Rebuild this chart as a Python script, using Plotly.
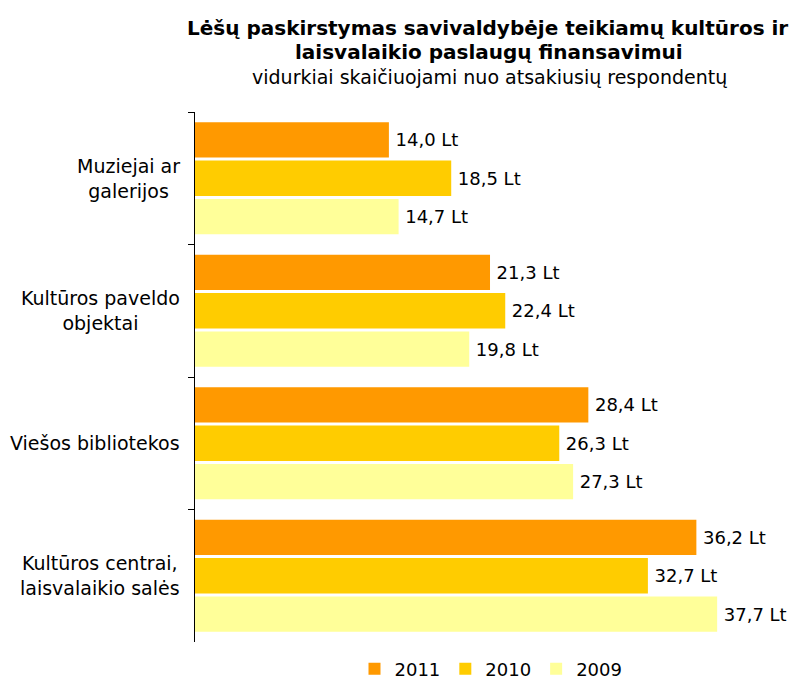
import plotly.graph_objects as go

categories = ["Muziejai ar<br>galerijos", "Kultūros paveldo<br>objektai", "Viešos bibliotekos", "Kultūros centrai,<br>laisvalaikio salės"]
cat_ids = ["c1", "c2", "c3", "c4"]
series_names = ["2011", "2010", "2009"]
values_2011 = [14.0, 21.3, 28.4, 36.2]
values_2010 = [18.5, 22.4, 26.3, 32.7]
values_2009 = [14.7, 19.8, 27.3, 37.7]
colors = ["#FF9900", "#FFCC00", "#FFFF99"]

FONT = "DejaVu Sans"

fig = go.Figure()
for name, vals, col in zip(series_names, [values_2011, values_2010, values_2009], colors):
    fig.add_trace(go.Bar(
        y=cat_ids, x=vals, name=name, orientation="h",
        marker=dict(color=col, line=dict(width=0)),
        texttemplate="\u2009%{x:.1f} Lt", textposition="outside",
        textfont=dict(family=FONT, size=18, color="#000000"),
        cliponaxis=False, constraintext="none",
    ))

# page body has an 8px margin, so the figure is drawn 8px in from the window edge;
# keep the page within the window so that no scrollbar appears
W, H = 790, 673
L, R, T, B = 187, 49, 104, 39
pw, ph = W - L - R, H - T - B

def px(xp):
    return (xp - L) / pw

def py(yp):
    return (H - B - yp) / ph

anns = [
    dict(text="<b>Lėšų paskirstymas savivaldybėje teikiamų kultūros ir</b>", x=px(479), y=py(20),
         xref="paper", yref="paper", xanchor="center", yanchor="middle", showarrow=False,
         font=dict(family=FONT, size=20, color="#000000")),
    dict(text="<b>laisvalaikio paslaugų finansavimui</b>", x=px(481), y=py(44),
         xref="paper", yref="paper", xanchor="center", yanchor="middle", showarrow=False,
         font=dict(family=FONT, size=20, color="#000000")),
    dict(text="vidurkiai skaičiuojami nuo atsakiusių respondentų", x=px(481), y=py(69),
         xref="paper", yref="paper", xanchor="center", yanchor="middle", showarrow=False,
         font=dict(family=FONT, size=19, color="#000000")),
]
for cid, label in zip(cat_ids, categories):
    anns.append(dict(text=label, x=px(174), y=cid, xref="paper", yref="y",
                     xanchor="right", yanchor="middle", align="center", showarrow=False,
                     font=dict(family=FONT, size=19, color="#000000")))

fig.update_layout(
    width=W, height=H,
    margin=dict(l=L, r=R, t=T, b=B, pad=0, autoexpand=False),
    paper_bgcolor="#FFFFFF", plot_bgcolor="#FFFFFF",
    barmode="group", bargap=0.13, bargroupgap=0.08,
    separators=", ",
    font=dict(family=FONT, size=18, color="#000000"),
    showlegend=True,
    legend=dict(orientation="h", x=px(483), xanchor="center", y=py(661), yanchor="middle",
                font=dict(family=FONT, size=18), itemwidth=30, traceorder="normal"),
    annotations=anns,
    xaxis=dict(range=[0, 40], visible=False, showgrid=False, zeroline=False),
    yaxis=dict(autorange="reversed", showticklabels=False, showline=True, linecolor="#000000",
               linewidth=1, ticks="outside", ticklen=6, tickcolor="#000000",
               tickson="boundaries", showgrid=False, zeroline=False),
)

fig.write_html("out.html")
